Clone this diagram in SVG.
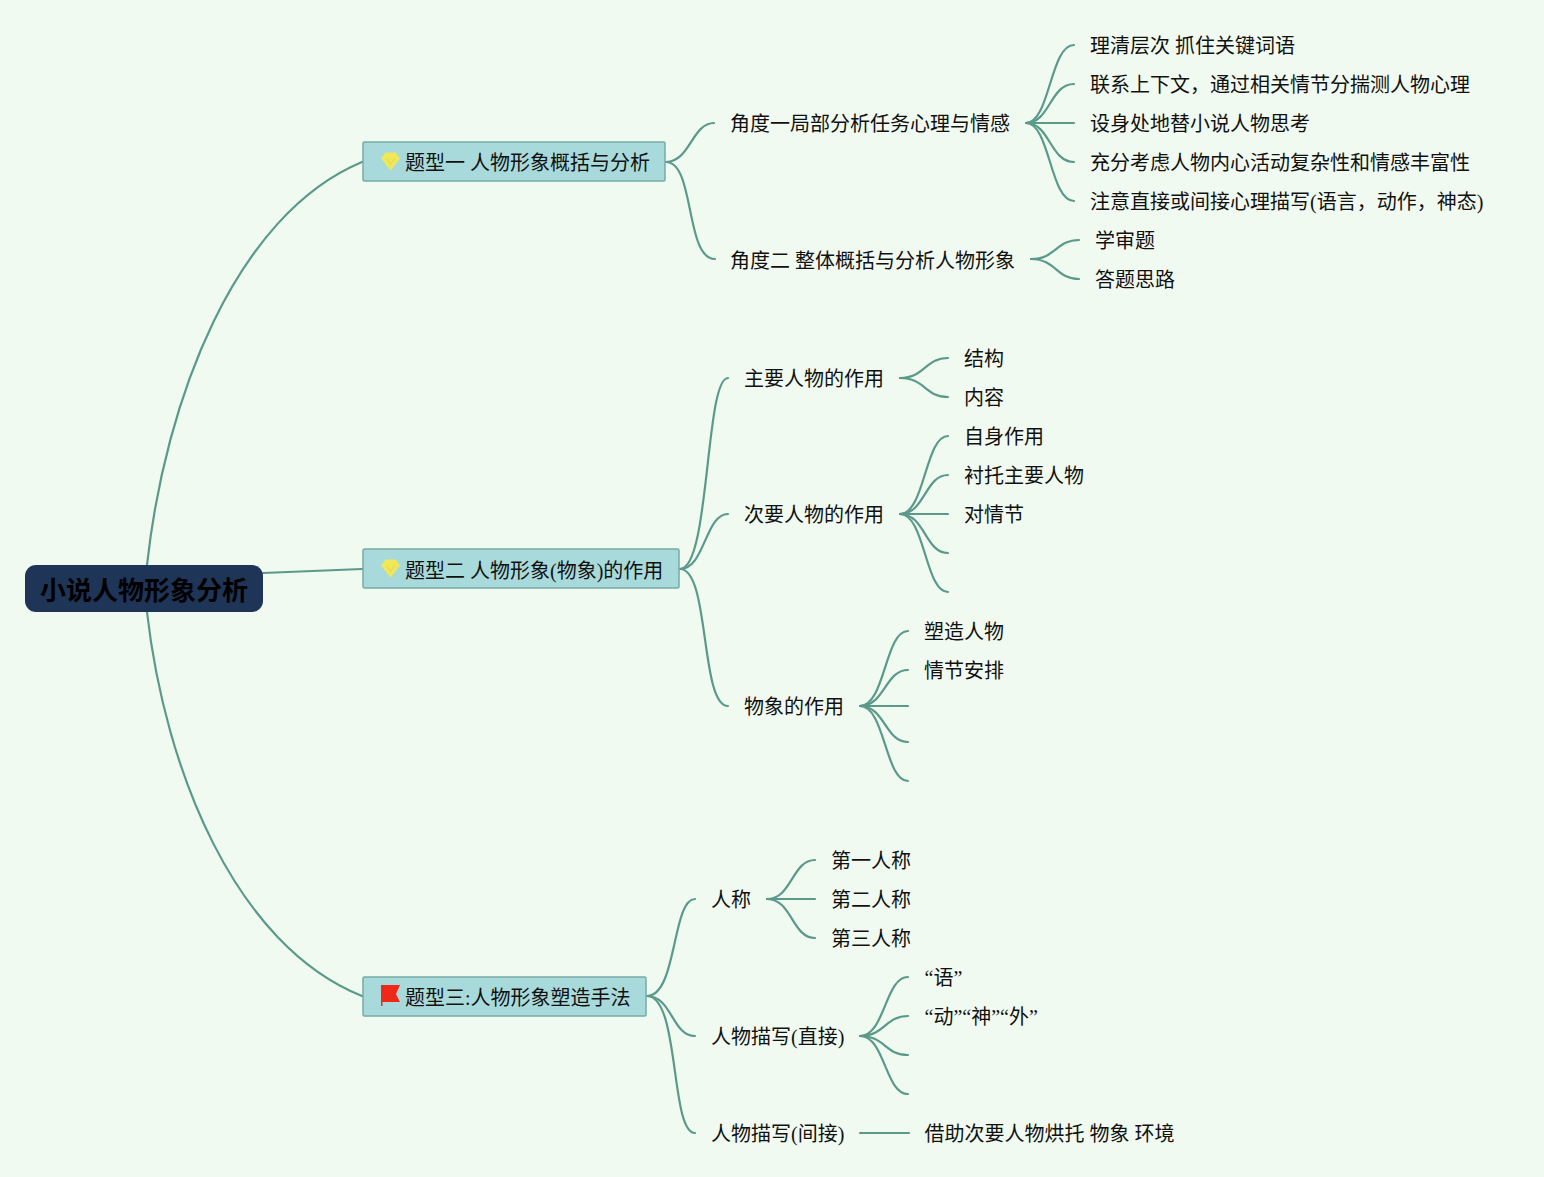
<svg xmlns="http://www.w3.org/2000/svg" width="1544" height="1177" viewBox="0 0 1544 1177">
<style>
text{font-family:"Liberation Serif","Noto Sans CJK SC",sans-serif;font-size:20px;fill:#111;dominant-baseline:central;transform:translateY(2px)}
.root{font-size:26px;font-weight:700;fill:#000}
.topic{fill:#a8dadc;stroke:#75aca6;stroke-width:1.5}
#connectors path{fill:none;stroke:#5b9a8b;stroke-width:2.200;stroke-linecap:round}
.gem{fill:#f0e858}
</style>
<defs>
<g id="gem"><path class="gem" d="M-5-9H5L9.500-3 0 9-9.500-3Z"/><path d="M-4-3L0 3 4-3" fill="none" stroke="#d8d050" stroke-width="0.800"/></g>
</defs>
<rect width="1544" height="1177" fill="#f0faf0"/>
<g id="connectors">
<path d="M147 565C165 400 235 215 362 162"/>
<path d="M147 612C165 770 235 945 362 996"/>
<path d="M263 573L362 569"/>
<path d="M666 162C690 162 692 123 714 123"/>
<path d="M666 162C695 162 685 259 715 259"/>
<path d="M680 569C710 569 705 378 728 378"/>
<path d="M680 569C705 569 705 514 728 514"/>
<path d="M680 569C710 569 700 706 728 706"/>
<path d="M647 996C677 996 672 899 695 899"/>
<path d="M647 996C672 996 672 1036 695 1036"/>
<path d="M647 996C680 996 670 1133 695 1133"/>
<path d="M1026 123C1050 123 1050 45 1074 45"/>
<path d="M1026 123C1050 123 1050 84 1074 84"/>
<path d="M1026 123H1074"/>
<path d="M1026 123C1050 123 1050 162 1074 162"/>
<path d="M1026 123C1050 123 1050 201 1074 201"/>
<path d="M1031 259C1056 259 1056 240 1079 240"/>
<path d="M1031 259C1056 259 1056 279 1079 279"/>
<path d="M900 378C925 378 925 358 948 358"/>
<path d="M900 378C925 378 925 397 948 397"/>
<path d="M900 514C925 514 925 436 948 436"/>
<path d="M900 514C925 514 925 475 948 475"/>
<path d="M900 514H948"/>
<path d="M900 514C925 514 925 553 948 553"/>
<path d="M900 514C925 514 925 592 948 592"/>
<path d="M860 706C885 706 885 631 908 631"/>
<path d="M860 706C885 706 885 670 908 670"/>
<path d="M860 706H908"/>
<path d="M860 706C885 706 885 742 908 742"/>
<path d="M860 706C885 706 885 781 908 781"/>
<path d="M767 899C792 899 792 860 815 860"/>
<path d="M767 899H815"/>
<path d="M767 899C792 899 792 938 815 938"/>
<path d="M860 1036C885 1036 885 977 908 977"/>
<path d="M860 1036C885 1036 885 1016 908 1016"/>
<path d="M860 1036C885 1036 885 1055 908 1055"/>
<path d="M860 1036C885 1036 885 1094 908 1094"/>
<path d="M860 1133H909"/>
</g>
<g id="root"><rect x="25" y="565" width="238" height="47" rx="11" fill="#1f3558"/><text class="root" x="40" y="589">小说人物形象分析</text></g>
<g id="t1"><rect class="topic" x="363" y="142" width="302" height="39" rx="1.500"/><use href="#gem" x="390.500" y="161.500"/><text x="405" y="161">题型一 人物形象概括与分析</text></g>
<g id="t2"><rect class="topic" x="363" y="549" width="316" height="39" rx="1.500"/><use href="#gem" x="390.500" y="568.500"/><text x="405" y="569">题型二 人物形象(物象)的作用</text></g>
<g id="t3"><rect class="topic" x="363" y="977" width="283" height="39" rx="1.500"/><path d="M381 985H400L396 994 400 1002H382.500V1006H381Z" fill="#f0281a"/><text x="405" y="996">题型三:人物形象塑造手法</text></g>
<g id="n1"><text x="730" y="122">角度一局部分析任务心理与情感</text></g>
<g id="n2"><text x="730" y="259">角度二 整体概括与分析人物形象</text></g>
<g id="n3"><text x="1090" y="44">理清层次 抓住关键词语</text></g>
<g id="n4"><text x="1090" y="83">联系上下文，通过相关情节分揣测人物心理</text></g>
<g id="n5"><text x="1090" y="122">设身处地替小说人物思考</text></g>
<g id="n6"><text x="1090" y="161">充分考虑人物内心活动复杂性和情感丰富性</text></g>
<g id="n7"><text x="1090" y="200">注意直接或间接心理描写(语言，动作，神态)</text></g>
<g id="n8"><text x="1095" y="239">学审题</text></g>
<g id="n9"><text x="1095" y="278">答题思路</text></g>
<g id="n10"><text x="744" y="377">主要人物的作用</text></g>
<g id="n11"><text x="964" y="357">结构</text></g>
<g id="n12"><text x="964" y="396">内容</text></g>
<g id="n13"><text x="744" y="513">次要人物的作用</text></g>
<g id="n14"><text x="964" y="435">自身作用</text></g>
<g id="n15"><text x="964" y="474">衬托主要人物</text></g>
<g id="n16"><text x="964" y="513">对情节</text></g>
<g id="n17"><text x="744" y="705">物象的作用</text></g>
<g id="n18"><text x="924" y="630">塑造人物</text></g>
<g id="n19"><text x="924" y="669">情节安排</text></g>
<g id="n20"><text x="711" y="898">人称</text></g>
<g id="n21"><text x="831" y="859">第一人称</text></g>
<g id="n22"><text x="831" y="898">第二人称</text></g>
<g id="n23"><text x="831" y="937">第三人称</text></g>
<g id="n24"><text x="711" y="1035">人物描写(直接)</text></g>
<g id="n25"><text x="924.500" y="976">“语”</text></g>
<g id="n26"><text x="924.500" y="1015">“动”“神”“外”</text></g>
<g id="n27"><text x="711" y="1132">人物描写(间接)</text></g>
<g id="n28"><text x="924.500" y="1132">借助次要人物烘托 物象 环境</text></g>
</svg>
